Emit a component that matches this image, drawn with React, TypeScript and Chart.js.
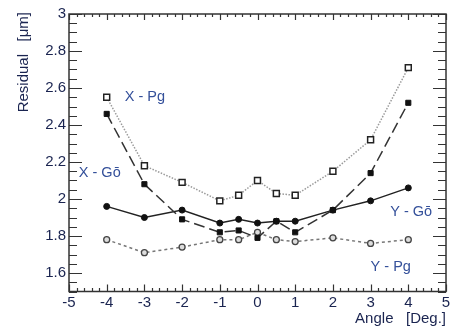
import React, { useEffect, useRef } from "react";
import { Chart, registerables } from "chart.js";

Chart.register(...registerables);

const angles = [-4, -3, -2, -1, -0.5, 0, 0.5, 1, 2, 3, 4];
const xPg = [2.55, 2.18, 2.09, 1.99, 2.02, 2.1, 2.03, 2.02, 2.15, 2.32, 2.71];
const xGo = [2.46, 2.08, 1.89, 1.82, 1.83, 1.79, 1.88, 1.82, 1.94, 2.14, 2.52];
const yGo = [1.96, 1.9, 1.94, 1.87, 1.89, 1.87, 1.88, 1.88, 1.94, 1.99, 2.06];
const yPg = [1.78, 1.71, 1.74, 1.78, 1.78, 1.82, 1.78, 1.77, 1.79, 1.76, 1.78];

const xTickLabels = ["-5", "-4", "-3", "-2", "-1", "0", "1", "2", "3", "4", "5"];
const yTickLabels = ["1.6", "1.8", "2", "2.2", "2.4", "2.6", "2.8", "3"];

const seriesLabels = [
  { text: "X - Pg", x: -3.52, y: 2.55 },
  { text: "X - Gō", x: -4.74, y: 2.14 },
  { text: "Y - Gō", x: 3.52, y: 1.93 },
  { text: "Y - Pg", x: 3.0, y: 1.63 },
];

const pts = (vals: number[]) => angles.map((a, i) => ({ x: a, y: vals[i] }));

const decor = {
  id: "decor",
  afterDraw(chart: any) {
    const { ctx, chartArea: ca, scales } = chart;
    const xs = scales.x;
    const ys = scales.y;
    ctx.save();
    ctx.strokeStyle = "#333";
    ctx.lineWidth = 1.5;
    ctx.strokeRect(ca.left, ca.top, ca.right - ca.left, ca.bottom - ca.top);
    ctx.lineWidth = 1.2;
    ctx.beginPath();
    for (let k = 0; k <= 50; k++) {
      const v = -5 + k * 0.2;
      const px = Math.round(xs.getPixelForValue(v)) + 0.5;
      const major = k % 5 === 0;
      const lb = major ? 7 : 3.5;
      const lt = major ? 6 : 3;
      ctx.moveTo(px, ca.bottom);
      ctx.lineTo(px, ca.bottom - lb);
      ctx.moveTo(px, ca.top);
      ctx.lineTo(px, ca.top + lt);
    }
    for (let k = 0; k <= 30; k++) {
      const v = 1.5 + k * 0.05;
      const py = Math.round(ys.getPixelForValue(v)) + 0.5;
      const major = (k - 2) % 4 === 0;
      const l = major ? 13 : 8;
      ctx.moveTo(ca.left, py);
      ctx.lineTo(ca.left + l, py);
      ctx.moveTo(ca.right, py);
      ctx.lineTo(ca.right - l, py);
    }
    ctx.stroke();

    ctx.fillStyle = "#1a2450";
    ctx.font = "15px 'Liberation Sans', Arial, sans-serif";
    ctx.textAlign = "center";
    ctx.textBaseline = "middle";
    xTickLabels.forEach((t) => {
      ctx.fillText(t, xs.getPixelForValue(parseFloat(t)), ca.bottom + 11);
    });
    ctx.textAlign = "right";
    yTickLabels.forEach((t) => {
      ctx.fillText(t, ca.left - 3, ys.getPixelForValue(parseFloat(t)));
    });

    ctx.font = "15px 'Liberation Sans', Arial, sans-serif";
    ctx.textAlign = "right";
    ctx.textBaseline = "alphabetic";
    ctx.fillText("Angle   [Deg.]", ca.right, 323);
    ctx.save();
    ctx.translate(28, 0);
    ctx.rotate(-Math.PI / 2);
    ctx.textAlign = "end";
    ctx.fillText("Residual   [μm]", -12, 0);
    ctx.restore();

    ctx.fillStyle = "#34509a";
    ctx.font = "14.5px 'Liberation Sans', Arial, sans-serif";
    ctx.textAlign = "left";
    ctx.textBaseline = "middle";
    seriesLabels.forEach((l) => {
      ctx.fillText(l.text, xs.getPixelForValue(l.x), ys.getPixelForValue(l.y));
    });
    ctx.restore();
  },
};

export default function App() {
  const ref = useRef<HTMLCanvasElement>(null);
  useEffect(() => {
    document.body.style.margin = "0";
    const chart = new Chart(ref.current!, {
      type: "line",
      data: {
        datasets: [
          {
            label: "X - Pg",
            data: pts(xPg),
            borderColor: "#9a9a9a",
            borderWidth: 1.5,
            borderDash: [1.5, 1.5],
            pointStyle: "rect",
            pointRadius: 4.2,
            pointBorderColor: "#222",
            pointBackgroundColor: "#fff",
            pointBorderWidth: 1.5,
          },
          {
            label: "X - Gō",
            data: pts(xGo),
            borderColor: "#333",
            borderWidth: 1.5,
            borderDash: [11, 5],
            pointStyle: "rect",
            pointRadius: 3.6,
            pointBorderColor: "#111",
            pointBackgroundColor: "#111",
            pointBorderWidth: 1,
          },
          {
            label: "Y - Gō",
            data: pts(yGo),
            borderColor: "#222",
            borderWidth: 1.5,
            pointStyle: "circle",
            pointRadius: 3,
            pointBorderColor: "#111",
            pointBackgroundColor: "#111",
            pointBorderWidth: 1,
          },
          {
            label: "Y - Pg",
            data: pts(yPg),
            borderColor: "#777",
            borderWidth: 1.5,
            borderDash: [3, 3],
            pointStyle: "circle",
            pointRadius: 3,
            pointBorderColor: "#444",
            pointBackgroundColor: "#ddd",
            pointBorderWidth: 1.3,
          },
        ],
      },
      options: {
        responsive: false,
        animation: false,
        layout: { padding: { top: 14, right: 8, left: 0, bottom: 0 } },
        plugins: { legend: { display: false }, tooltip: { enabled: false } },
        scales: {
          x: {
            type: "linear",
            min: -5,
            max: 5,
            grid: { display: false },
            border: { display: false },
            ticks: { display: false },
            afterFit: (s: any) => {
              s.height = 35.5;
            },
          },
          y: {
            type: "linear",
            min: 1.5,
            max: 3,
            grid: { display: false },
            border: { display: false },
            ticks: { display: false },
            afterFit: (s: any) => {
              s.width = 69;
            },
          },
        },
      },
      plugins: [decor],
    });
    return () => chart.destroy();
  }, []);
  return <canvas ref={ref} width={454} height={327} style={{ display: "block" }} />;
}
